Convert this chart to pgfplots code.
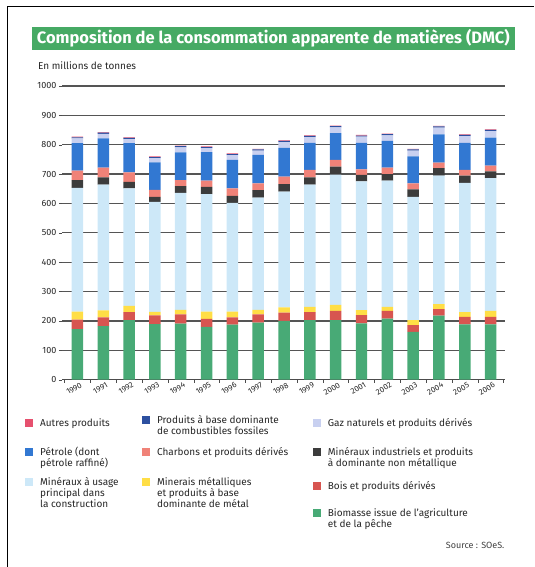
\documentclass[border=0pt]{standalone}
\usepackage{fontspec}
\setmainfont{Fira Sans}
\usepackage{pgfplots}
\usepackage{pgfplotstable}
\pgfplotsset{compat=1.18}

\definecolor{cBio}{RGB}{72,170,118}
\definecolor{cBois}{RGB}{215,85,80}
\definecolor{cMet}{RGB}{255,222,70}
\definecolor{cCons}{RGB}{205,232,248}
\definecolor{cInd}{RGB}{60,60,60}
\definecolor{cChar}{RGB}{240,130,120}
\definecolor{cPet}{RGB}{50,120,210}
\definecolor{cGaz}{RGB}{200,208,240}
\definecolor{cFos}{RGB}{45,80,160}
\definecolor{cAut}{RGB}{230,80,110}
\definecolor{cTitle}{RGB}{70,170,100}
\definecolor{cGrid}{RGB}{85,85,85}

% x: 0 = 1990 ... 16 = 2006
\pgfplotstableread{
x  bio bois met cons ind char pet gaz fos aut
0  172 32 28 421 26 33 93 16 4 2
1  182 30 24 428 25 33 99 16 4 2
2  203 27 21 400 22 33 99 14 4 2
3  189 30 12 374 17 24 94 14 4 2
4  191 31 16 398 23 20 95 17 4 2
5  180 27 25 400 24 22 97 13 4 2
6  187 25 20 370 24 25 97 16 4 2
7  194 28 16 382 25 23 97 15 4 2
8  200 28 18 394 26 25 98 20 4 2
9  203 27 18 416 25 25 92 20 4 2
10 203 31 21 443 27 23 91 20 4 2
11 192 28 17 438 22 19 90 21 4 2
12 208 26 14 430 22 22 91 19 4 2
13 163 23 17 419 26 20 92 20 4 2
14 218 22 17 438 25 19 96 23 4 2
15 188 26 16 440 25 19 92 23 4 2
16 188 26 20 452 23 20 95 22 4 2
}\dmc

\newcommand{\legfont}{\fontsize{10}{11}\selectfont}
\newcommand{\lt}[3]{\node[anchor=base west,inner sep=0pt,font=\legfont,text=black!85] at (#1pt,#2pt) {#3};}
\newcommand{\sq}[3]{\fill[#3] (#1pt,#2pt) rectangle ++(8pt,8pt);}
\newcommand{\gl}[1]{\fill[cGrid] (62pt,#1pt-0.6pt) rectangle (505pt,#1pt+0.6pt);}

\begin{document}
\begin{tikzpicture}
\path (0,0) rectangle (534pt,567pt);
% frame
\draw[black,line width=1pt] (8pt,0pt) -- (8pt,560pt) -- (534pt,560pt);
% title banner
\fill[cTitle] (32pt,517pt) rectangle (515pt,540pt);
\node[font=\fontsize{16.5}{18}\selectfont\bfseries,text=white,inner sep=0pt] at (273.5pt,528.5pt) {Composition de la consommation apparente de matières (DMC)};
\node[anchor=base west,inner sep=0pt,font=\legfont,text=black!85] at (38pt,497.5pt) {En millions de tonnes};

% horizontal grid lines, behind the bars
\gl{216.4}\gl{245.8}\gl{275.2}\gl{304.6}\gl{334.0}
\gl{363.4}\gl{392.8}\gl{422.2}\gl{451.6}\gl{481.0}

\begin{axis}[
  at={(62pt,187pt)}, anchor=south west,
  scale only axis, width=443pt, height=294pt,
  xmin=-0.6, xmax=16.54, ymin=0, ymax=1000,
  ybar stacked, bar width=11.5pt,
  axis x line*=bottom, axis y line*=left,
  x axis line style={black!70,line width=0.8pt,-},
  y axis line style={draw=none},
  xtick={0,...,16},
  xticklabels={1990,1991,1992,1993,1994,1995,1996,1997,1998,1999,2000,2001,2002,2003,2004,2005,2006},
  xticklabel style={rotate=30,anchor=north east,font=\fontsize{8}{9}\selectfont,inner sep=0.5pt,text=black!85,xshift=3pt},
  major x tick style={draw=none},
  minor xtick={-0.5,0.5,...,16.5},
  minor x tick style={black!70},
  xtick align=outside, minor tick length=3pt,
  ytick={0,100,...,1000},
  major y tick style={black!70},
  ytick align=outside, major tick length=3pt,
  yticklabel style={font=\fontsize{9}{10}\selectfont,text=black!85,xshift=1pt},
  /pgf/number format/assume math mode=true,
  /pgf/number format/set thousands separator={},
  clip=false,
]
\addplot[fill=cBio,draw=none] table[x=x,y=bio]{\dmc};
\addplot[fill=cBois,draw=none] table[x=x,y=bois]{\dmc};
\addplot[fill=cMet,draw=none] table[x=x,y=met]{\dmc};
\addplot[fill=cCons,draw=none] table[x=x,y=cons]{\dmc};
\addplot[fill=cInd,draw=none] table[x=x,y=ind]{\dmc};
\addplot[fill=cChar,draw=none] table[x=x,y=char]{\dmc};
\addplot[fill=cPet,draw=none] table[x=x,y=pet]{\dmc};
\addplot[fill=cGaz,draw=none] table[x=x,y=gaz]{\dmc};
\addplot[fill=cFos,draw=none] table[x=x,y=fos]{\dmc};
\addplot[fill=cAut,draw=none] table[x=x,y=aut]{\dmc};
\end{axis}

% legend
\sq{25}{140}{cAut}   \lt{40}{140.5}{Autres produits}
\sq{142}{143}{cFos}  \lt{157}{143.5}{Produits à base dominante}
                     \lt{157}{132.5}{de combustibles fossiles}
\sq{313}{140}{cGaz}  \lt{328}{140.5}{Gaz naturels et produits dérivés}

\sq{25}{111}{cPet}   \lt{40}{111.5}{Pétrole (dont}
                     \lt{40}{100.5}{pétrole raffiné)}
\sq{142}{111}{cChar} \lt{157}{111.5}{Charbons et produits dérivés}
\sq{313}{111}{cInd}  \lt{328}{111.5}{Minéraux industriels et produits}
                     \lt{328}{100.5}{à dominante non métallique}

\sq{25}{81}{cCons}   \lt{40}{81.5}{Minéraux à usage}
                     \lt{40}{70.5}{principal dans}
                     \lt{40}{59.5}{la construction}
\sq{142}{81}{cMet}   \lt{157}{81.5}{Minerais métalliques}
                     \lt{157}{70.5}{et produits à base}
                     \lt{157}{59.5}{dominante de métal}
\sq{313}{77}{cBois}  \lt{328}{77.5}{Bois et produits dérivés}
\sq{313}{50}{cBio}   \lt{328}{50.5}{Biomasse issue de l'agriculture}
                     \lt{328}{39.5}{et de la pêche}

\node[anchor=base east,inner sep=0pt,font=\fontsize{9}{10}\selectfont,text=black!75] at (505pt,18.5pt) {Source : SOeS.};
\end{tikzpicture}
\end{document}
